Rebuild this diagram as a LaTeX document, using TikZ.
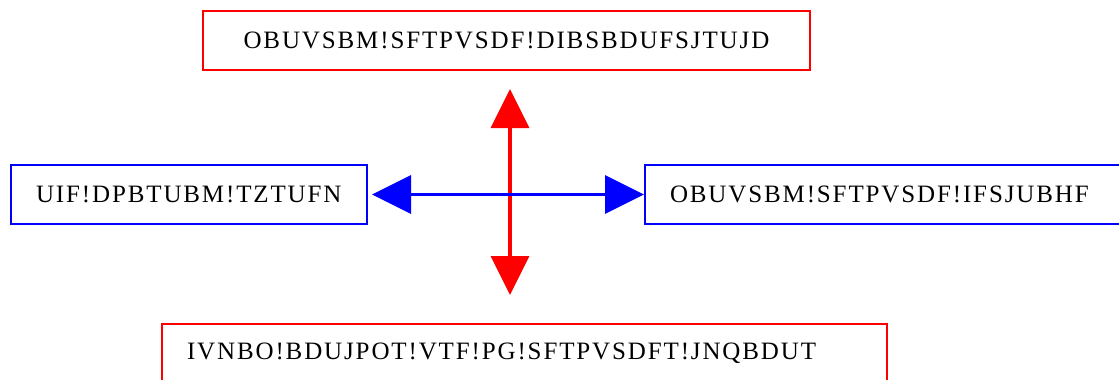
\documentclass[tikz,border=0pt]{standalone}
\usepackage{fontspec}
\newfontfamily\boxfont[LetterSpace=7.5]{Liberation Serif}
\usetikzlibrary{arrows.meta}
\definecolor{pred}{RGB}{255,0,0}
\definecolor{pblue}{RGB}{0,0,255}
\tikzset{
  box/.style={draw, line width=2pt, minimum height=59pt, inner ysep=0pt, inner xsep=25pt,
    font=\boxfont\fontsize{25}{28}\selectfont, anchor=north west},
  redbox/.style={box, draw=pred},
  bluebox/.style={box, draw=pblue},
  redarrow/.style={draw=pred, line width=3.5pt, {Triangle[length=39pt,width=38pt]}-{Triangle[length=39pt,width=38pt]}, fill=pred},
  bluearrow/.style={draw=pblue, line width=3.5pt, {Triangle[length=39pt,width=38pt]}-{Triangle[length=39pt,width=38pt]}, fill=pblue},
}
\begin{document}
\begin{tikzpicture}[x=1pt,y=-1pt]
\useasboundingbox (0,0) rectangle (1119,380);
\node[redbox, text width=557pt, align=center] (top) at (202,10) {OBUVSBM!SFTPVSDF!DIBSBDUFSJTUJD};
\node[bluebox, text width=306pt, align=left] (left) at (10,164) {UIF!DPBTUBM!TZTUFN};
\node[bluebox, text width=426pt, align=left] (right) at (644,164) {OBUVSBM!SFTPVSDF!IFSJUBHF};
\node[redbox, text width=675pt, align=left] (bottom) at (161,323) {IVNBO!BDUJPOT!VTF!PG!SFTPVSDFT!JNQBDUT};
\coordinate (c) at (510,192);
\draw[redarrow, shorten <=18pt, shorten >=28pt] (top.south -| c) -- (bottom.north -| c);
\draw[bluearrow, shorten <=4pt, shorten >=0pt] (left.east) -- (right.west);
\end{tikzpicture}
\end{document}
